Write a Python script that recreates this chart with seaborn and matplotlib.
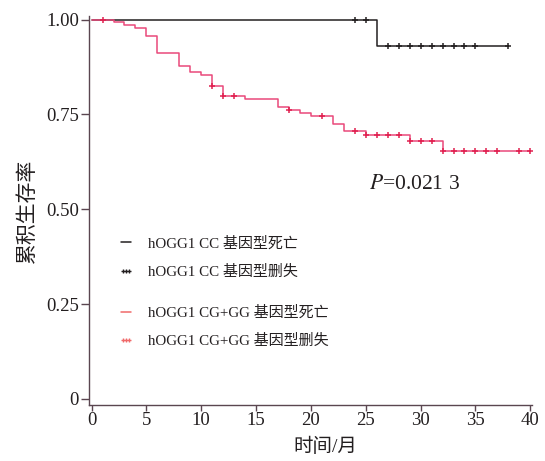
import numpy as np
import pandas as pd
import matplotlib
matplotlib.use("Agg")
import matplotlib.pyplot as plt
import seaborn as sns
from matplotlib.lines import Line2D
from matplotlib.legend_handler import HandlerLine2D

# ====================== DATA ======================
# hOGG1 CC genotype: step curve + censored times
cc_time = [0, 26, 38]
cc_surv = [1.0, 0.929, 0.929]
cc_censor = [24, 25, 27, 28, 29, 30, 31, 32, 33, 34, 35, 38]

# hOGG1 CG+GG genotype
gg_time = [0, 2, 3, 4, 5, 6, 8, 9, 10, 11, 12, 14, 17, 18, 19, 20, 22, 23, 25, 29, 32, 40]
gg_surv = [1.0, 0.993, 0.985, 0.977, 0.957, 0.913, 0.878, 0.862, 0.853, 0.826, 0.799,
           0.790, 0.770, 0.761, 0.753, 0.745, 0.725, 0.706, 0.695, 0.681, 0.653, 0.653]
gg_censor = [1, 11, 12, 13, 18, 21, 24, 25, 26, 27, 28, 29, 30, 31, 32, 33, 34, 35, 36, 37, 39, 40]

x_ticks = [0, 5, 10, 15, 20, 25, 30, 35, 40]
y_ticks = [0, 0.25, 0.50, 0.75, 1.00]
y_ticklabels = ["0", "0.25", "0.50", "0.75", "1.00"]

legend_labels = ["hOGG1 CC 基因型死亡", "hOGG1 CC 基因型删失",
                 "hOGG1 CG+GG 基因型死亡", "hOGG1 CG+GG 基因型删失"]
p_text = "$P$=0.021 3"

# ====================== STYLE ======================
sns.set_theme(style="ticks")
plt.rcParams["font.family"] = ["Liberation Serif", "Noto Sans CJK SC"]
plt.rcParams["mathtext.fontset"] = "stix"

CC_COLOR = "#231f20"
GG_COLOR = "#e9497a"
GG_MARK = "#e0204f"
GG_LEG = "#f06a6a"
SPINE = "#5a4650"
TEXT = "#231f20"


def surv_at(times, survs, t):
    # value of the step function (right-continuous) at time t
    i = np.searchsorted(times, t, side="right") - 1
    return survs[i]


cc_df = pd.DataFrame({"time": cc_time, "surv": cc_surv})
gg_df = pd.DataFrame({"time": gg_time, "surv": gg_surv})

fig = plt.figure(figsize=(5.45, 4.61), dpi=100)
ax = fig.add_axes([0.163, 0.1215, 0.813, 0.8435])

sns.lineplot(data=cc_df, x="time", y="surv", drawstyle="steps-post",
             color=CC_COLOR, linewidth=1.1, ax=ax, estimator=None)
sns.lineplot(data=gg_df, x="time", y="surv", drawstyle="steps-post",
             color=GG_COLOR, linewidth=1.1, ax=ax, estimator=None)

cc_cy = [surv_at(cc_time, cc_surv, t) for t in cc_censor]
gg_cy = [surv_at(gg_time, gg_surv, t) for t in gg_censor]
ax.plot(cc_censor, cc_cy, linestyle="none", marker="+", color=CC_COLOR,
        markersize=5, markeredgewidth=1.1)
ax.plot(gg_censor, gg_cy, linestyle="none", marker="+", color=GG_MARK,
        markersize=5, markeredgewidth=1.1)

ax.set_xlim(-0.25, 40.15)
ax.set_ylim(-0.016, 1.009)
ax.set_xticks(x_ticks)
ax.set_yticks(y_ticks)
ax.set_yticklabels(y_ticklabels)
ax.tick_params(axis="both", labelsize=13.5, colors=SPINE, labelcolor=TEXT,
               width=1.0, pad=1)
ax.tick_params(axis="y", length=6)
ax.tick_params(axis="x", length=4)
for side in ["top", "right"]:
    ax.spines[side].set_visible(False)
for side in ["left", "bottom"]:
    ax.spines[side].set_color(SPINE)
    ax.spines[side].set_linewidth(1.0)

ax.set_xlabel("时间/月", fontsize=14, color=TEXT)
ax.set_ylabel("累积生存率", fontsize=15, color=TEXT)
ax.xaxis.set_label_coords(0.533, -0.085)
ax.yaxis.set_label_coords(-0.115, 0.5)

ax.text(25.3, 0.564, p_text, fontsize=15.5, ha="left", va="center", color=TEXT)

# ====================== LEGEND ======================
h_cc_d = Line2D([0], [0], color=CC_COLOR, linewidth=1.1)
h_cc_c = Line2D([0], [0], color=CC_COLOR, linewidth=0, marker="+",
                markersize=3.5, markeredgewidth=1.0)
h_gg_d = Line2D([0], [0], color=GG_LEG, linewidth=1.1)
h_gg_c = Line2D([0], [0], color=GG_LEG, linewidth=0, marker="+",
                markersize=3.5, markeredgewidth=1.0)

# dashes nearly full width, the three "+" packed closer together
handlers = {h_cc_d: HandlerLine2D(marker_pad=0.05), h_gg_d: HandlerLine2D(marker_pad=0.05),
            h_cc_c: HandlerLine2D(marker_pad=0.2), h_gg_c: HandlerLine2D(marker_pad=0.2)}

leg_kw = dict(loc="center left", frameon=False, fontsize=10.8, handlelength=0.8,
              handletextpad=1.05, borderpad=0, borderaxespad=0, labelspacing=0.95,
              numpoints=3, labelcolor=TEXT, handler_map=handlers)
leg1 = ax.legend([h_cc_d, h_cc_c], legend_labels[:2],
                 bbox_to_anchor=(0.07, 0.379), **leg_kw)
ax.add_artist(leg1)
ax.legend([h_gg_d, h_gg_c], legend_labels[2:],
          bbox_to_anchor=(0.07, 0.2005), **leg_kw)

fig.savefig("out.png", dpi=100)
